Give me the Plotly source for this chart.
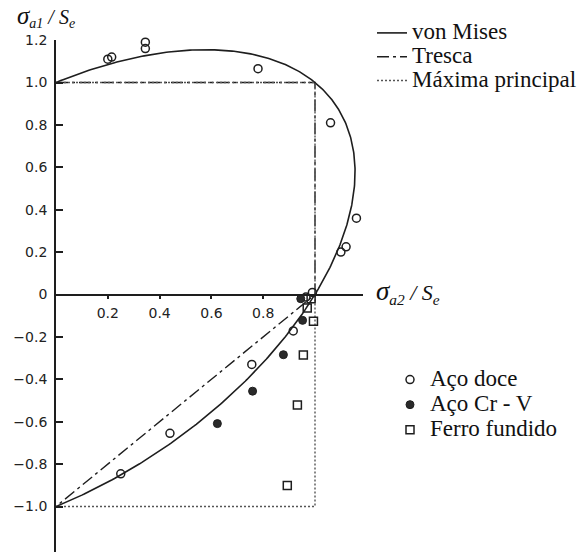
import numpy as np
import plotly.graph_objects as go

# Ensaios de fadiga biaxial, coordenadas normalizadas (sigma_a2/Se, sigma_a1/Se)
aco_doce_x = [0.20, 0.215, 0.345, 0.345, 0.78, 1.06, 1.16, 1.19, 1.10, 1.12,
              0.965, 0.99, 0.916, 0.756, 0.44, 0.25]
aco_doce_y = [1.11, 1.12, 1.19, 1.16, 1.065, 0.81, 0.36, 0.36, 0.20, 0.225,
              -0.012, 0.01, -0.172, -0.33, -0.655, -0.846]

aco_crv_x = [0.945, 0.952, 0.878, 0.759, 0.623]
aco_crv_y = [-0.02, -0.122, -0.284, -0.456, -0.609]

ferro_x = [0.985, 0.97, 0.994, 0.955, 0.932, 0.893]
ferro_y = [-0.02, -0.064, -0.126, -0.285, -0.521, -0.901]

# Critérios de falha (limite normalizado = 1)
tresca_x = [0, 1, 1, 0]
tresca_y = [1, 1, 0, -1]
max_princ_x = [0, 1, 1, 0]
max_princ_y = [1, 1, -1, -1]

# Marcações dos eixos
x_tick_vals = [0.2, 0.4, 0.6, 0.8]
x_tick_text = ["0.2", "0.4", "0.6", "0.8"]
y_tick_vals = [1.2, 1.0, 0.8, 0.6, 0.4, 0.2, 0, -0.2, -0.4, -0.6, -0.8, -1.0]
y_tick_text = ["1.2", "1.0", "0.8", "0.6", "0.4", "0.2", "0",
               "\u22120.2", "\u22120.4", "\u22120.6", "\u22120.8", "\u22121.0"]

# Elipse de von Mises: s1^2 - s1*s2 + s2^2 = 1, ramo com s2 >= 0
t = np.linspace(-2 * np.pi / 3, np.pi / 3, 400)
mises_y = np.cos(t) + np.sin(t) / np.sqrt(3)
mises_x = np.cos(t) - np.sin(t) / np.sqrt(3)

# Geometria da página (pixels)
W, H = 584, 552
X0, XS = 56, 259.0      # origem e escala horizontal
Y0, YS = 294.5, 212.0   # origem e escala vertical
X_END = 363             # fim do eixo horizontal
Y_TOP = 40              # topo do eixo vertical

INK = "#1e1e1e"
SERIF = "Liberation Serif"


def big(txt):
    return '<span style="font-size:23px">' + txt + "</span>"


fig = go.Figure()

fig.add_trace(go.Scatter(
    x=mises_x, y=mises_y, mode="lines", name=big("von Mises"),
    line=dict(color=INK, width=1.6), legend="legend", hoverinfo="skip"))
fig.add_trace(go.Scatter(
    x=tresca_x, y=tresca_y, mode="lines", name=big("Tresca"),
    line=dict(color=INK, width=1.4, dash="12px,4px,3px,4px"),
    legend="legend", hoverinfo="skip"))
fig.add_trace(go.Scatter(
    x=max_princ_x, y=max_princ_y, mode="lines", name=big("Máxima principal"),
    line=dict(color="#555555", width=1.4, dash="2px,2px"),
    legend="legend", hoverinfo="skip"))

fig.add_trace(go.Scatter(
    x=aco_doce_x, y=aco_doce_y, mode="markers", name=big("Aço doce"),
    marker=dict(symbol="circle-open", size=8, color=INK, line=dict(width=1.5)),
    cliponaxis=False, legend="legend2"))
fig.add_trace(go.Scatter(
    x=aco_crv_x, y=aco_crv_y, mode="markers", name=big("Aço Cr - V"),
    marker=dict(symbol="circle", size=8, color="#2a2a2a",
                line=dict(width=1, color=INK)),
    cliponaxis=False, legend="legend2"))
fig.add_trace(go.Scatter(
    x=ferro_x, y=ferro_y, mode="markers", name=big("Ferro fundido"),
    marker=dict(symbol="square-open", size=8, color=INK, line=dict(width=1.5)),
    cliponaxis=False, legend="legend2"))

tick_font = dict(family="DejaVu Sans", size=14, color="#222222")

fig.update_layout(
    width=W, height=H,
    margin=dict(l=0, r=0, t=0, b=0),
    paper_bgcolor="white", plot_bgcolor="white",
    showlegend=True,
    xaxis=dict(
        domain=[X0 / W, X_END / W],
        range=[0, (X_END - X0) / XS],
        anchor="free", position=(H - Y0) / H, side="bottom",
        showline=True, linecolor=INK, linewidth=1.8,
        ticks="outside", ticklen=4, tickwidth=1.5, tickcolor=INK,
        tickmode="array", tickvals=x_tick_vals, ticktext=x_tick_text,
        tickfont=tick_font, ticklabelstandoff=2,
        showgrid=False, zeroline=False, automargin=False,
    ),
    yaxis=dict(
        domain=[0, (H - Y_TOP) / H],
        range=[(Y0 - H) / YS, (Y0 - Y_TOP) / YS],
        anchor="x", side="left",
        showline=True, linecolor=INK, linewidth=1.8,
        ticks="inside", ticklen=7, tickwidth=1.5, tickcolor=INK,
        tickmode="array", tickvals=y_tick_vals, ticktext=y_tick_text,
        tickfont=tick_font, ticklabelstandoff=4,
        showgrid=False, zeroline=False, automargin=False,
    ),
    legend=dict(
        x=372 / W, y=1 - 16 / H, xanchor="left", yanchor="top",
        font=dict(family=SERIF, size=16, color="#111111"),
        bgcolor="rgba(0,0,0,0)", borderwidth=0, itemwidth=30,
        tracegroupgap=0,
    ),
    legend2=dict(
        x=390 / W, y=1 - 362 / H, xanchor="left", yanchor="top",
        font=dict(family=SERIF, size=17, color="#111111"),
        bgcolor="rgba(0,0,0,0)", borderwidth=0, itemwidth=30,
        tracegroupgap=0,
    ),
    annotations=[
        dict(text='<i><span style="font-size:25px">σ</span><sub>a1</sub> / S<sub>e</sub></i>',
             xref="paper", yref="paper", x=15 / W, y=1 - 16 / H,
             xanchor="left", yanchor="middle", showarrow=False,
             font=dict(family=SERIF, size=20, color="#111111")),
        dict(text='<i><span style="font-size:27px">σ</span><sub>a2</sub> / S<sub>e</sub></i>',
             xref="paper", yref="paper", x=374 / W, y=1 - 292 / H,
             xanchor="left", yanchor="middle", showarrow=False,
             font=dict(family=SERIF, size=22, color="#111111")),
    ],
)

fig.write_html("out.html")
